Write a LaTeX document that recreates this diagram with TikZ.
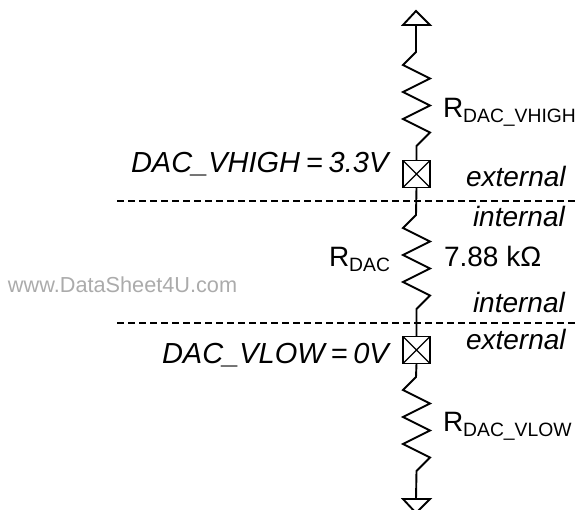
\documentclass[tikz,border=0pt]{standalone}
\usepackage{fontspec}
\setmainfont{Liberation Sans}
\tikzset{
  wire/.style={draw=black,line width=1.9pt,line join=miter},
  term/.style={draw=black,line width=1.9pt,fill=white,minimum size=27pt,inner sep=0pt,outer sep=0pt},
  xline/.style={draw=black,line width=1.3pt},
  dashline/.style={draw=black,line width=1.5pt,dash pattern=on 7pt off 4pt},
  lab/.style={inner sep=0pt,outer sep=0pt,font=\fontsize{28}{30}\selectfont,anchor=base west},
  ital/.style={lab,font=\fontsize{28}{30}\selectfont\itshape},
  italb/.style={lab,font=\fontsize{29}{31}\selectfont\itshape},
  wm/.style={inner sep=0pt,outer sep=0pt,anchor=base west,text=black!33,font=\fontsize{21.7}{23}\selectfont}
}
\newcommand{\zig}[1]{-- ++(-13,13) -- ++(27,13.5) -- ++(-27,13.5) -- ++(27,13.5) -- ++(-27,13.5) -- ++(27,13.5) -- ++(-13.5,13.5)}
\newcommand{\subt}[1]{\raisebox{-5pt}{\fontsize{19.3}{21}\selectfont #1}}
\newcommand{\nsp}{\hspace{.2em}}
\begin{document}
\begin{tikzpicture}[x=1pt,y=-1pt]
\useasboundingbox (0,0) rectangle (578,510);
\coordinate (top) at (416,25);
\coordinate (a1) at (416,52);
\coordinate (b1) at (416,215);
\coordinate (c1) at (416,377);
\coordinate (bot) at (416,499);
\node[term] (t1) at (416.5,174) {};
\node[term] (t2) at (416.5,350) {};
\draw[xline] (t1.north west) -- (t1.south east) (t1.north east) -- (t1.south west);
\draw[xline] (t2.north west) -- (t2.south east) (t2.north east) -- (t2.south west);
\draw[wire] (403,25) -- (416,11) -- (430,25) -- cycle;
\draw[wire] (top) -- (a1) \zig{} -- (t1.north);
\draw[wire] (t1.south) -- (b1) \zig{} -- (t2.north);
\draw[wire] (t2.south) -- (c1) \zig{} -- (bot);
\begin{scope}
\clip (0,0) rectangle (578,510);
\draw[wire] (403,499) -- (416,513) -- (430,499) -- cycle;
\end{scope}
\coordinate (d1a) at (117,201); \coordinate (d1b) at (578,201);
\coordinate (d2a) at (117,323); \coordinate (d2b) at (578,323);
\draw[dashline] (d1a) -- (d1b);
\draw[dashline] (d2a) -- (d2b);
\node[lab] (r1) at (443,118) {R\subt{DAC\_VHIGH}};
\node[lab] (r2) at (329,267) {R\subt{DAC}};
\node[lab] (r3) at (443,431) {R\subt{DAC\_VLOW}};
\node[lab] (v) at (444,267) {7.88 kΩ};
\node[italb] (h) at (131,173) {DAC\_VHIGH\nsp=\nsp3.3V};
\node[italb] (l) at (162,363) {DAC\_VLOW\nsp=\nsp0V};
\node[ital] (e1) at (466,187) {external};
\node[ital] (i1) at (473,227) {internal};
\node[ital] (i2) at (473,313) {internal};
\node[ital] (e2) at (466,350) {external};
\node[wm] (w) at (8,293) {www.DataSheet4U.com};
\end{tikzpicture}
\end{document}
